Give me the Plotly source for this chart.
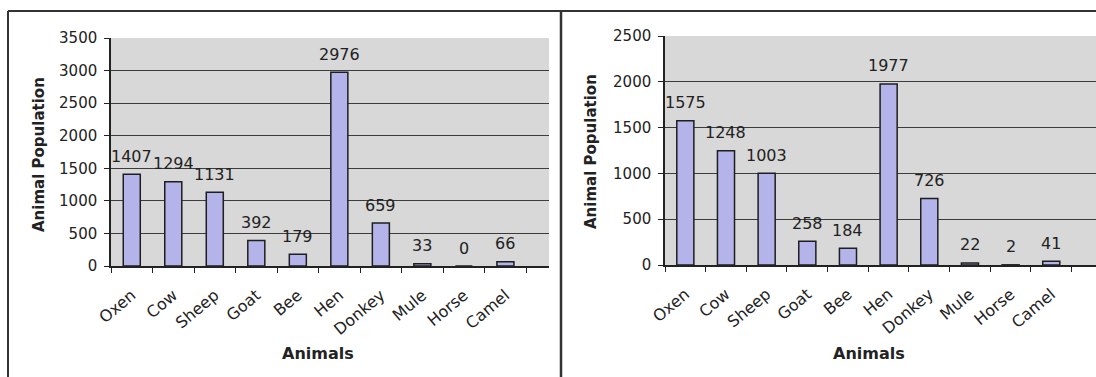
import plotly.graph_objects as go

animals = ["Oxen", "Cow", "Sheep", "Goat", "Bee", "Hen", "Donkey", "Mule", "Horse", "Camel"]
left_values = [1407, 1294, 1131, 392, 179, 2976, 659, 33, 0, 66]
right_values = [1575, 1248, 1003, 258, 184, 1977, 726, 22, 2, 41]
left_yticks = [0, 500, 1000, 1500, 2000, 2500, 3000, 3500]
right_yticks = [0, 500, 1000, 1500, 2000, 2500]
x_title = "Animals"
y_title = "Animal Population"

W, H = 1096, 377
FONT = "DejaVu Sans, Arial, sans-serif"
BAR = "#b4b4ea"
GRID = "#3c3c3c"
BG = "#d8d8d8"
TXT = "#222"

def px(x):
    return x / W

def py(y):
    return 1 - y / H

fig = go.Figure()
fig.add_trace(go.Bar(x=animals, y=left_values, xaxis="x", yaxis="y", width=0.41,
                     marker=dict(color=BAR, line=dict(color="#1e1e1e", width=1.5)),
                     showlegend=False, hoverinfo="x+y"))
fig.add_trace(go.Bar(x=animals, y=right_values, xaxis="x2", yaxis="y2", width=0.42,
                     marker=dict(color=BAR, line=dict(color="#1e1e1e", width=1.5)),
                     showlegend=False, hoverinfo="x+y"))

annotations = []
for xref, yref, vals in (("x", "y", left_values), ("x2", "y2", right_values)):
    for a, v in zip(animals, vals):
        annotations.append(dict(x=a, y=v, xref=xref, yref=yref, text=str(v), showarrow=False,
                                yanchor="middle", yshift=18,
                                font=dict(family=FONT, size=16, color=TXT)))

# axis titles placed as paper annotations
for cx, cy in ((318, 353), (869, 353)):
    annotations.append(dict(x=px(cx), y=py(cy), xref="paper", yref="paper", text=f"<b>{x_title}</b>",
                            showarrow=False, xanchor="center", yanchor="middle",
                            font=dict(family=FONT, size=16, color=TXT)))
for cx, cy in ((39, 155), (591, 152)):
    annotations.append(dict(x=px(cx), y=py(cy), xref="paper", yref="paper", text=f"<b>{y_title}</b>",
                            showarrow=False, xanchor="center", yanchor="middle", textangle=-90,
                            font=dict(family=FONT, size=15, color=TXT)))

axis_common = dict(showline=True, linecolor="#222", linewidth=1.5, ticks="outside", ticklen=5,
                   tickcolor="#222", automargin=False)
xtickfont = dict(family=FONT, size=16, color=TXT)
ytickfont = dict(family=FONT, size=15, color=TXT)

fig.update_layout(
    width=W, height=H, margin=dict(l=0, r=0, t=0, b=0, autoexpand=False),
    paper_bgcolor="white", plot_bgcolor=BG,
    xaxis=dict(domain=[px(111), px(549)], anchor="y", range=[-0.5, 10.05], tickangle=-40,
               tickson="boundaries", showgrid=False, ticklabelstandoff=12, tickfont=xtickfont,
               **axis_common),
    yaxis=dict(domain=[py(266), py(38)], anchor="x", range=[0, 3500], tickvals=left_yticks,
               showgrid=True, gridcolor=GRID, gridwidth=1, zeroline=False, ticklabelstandoff=4,
               tickfont=ytickfont, **axis_common),
    xaxis2=dict(domain=[px(665), 1.0], anchor="y2", range=[-0.5, 10.1], tickangle=-40,
                tickson="boundaries", showgrid=False, ticklabelstandoff=12, tickfont=xtickfont,
                **axis_common),
    yaxis2=dict(domain=[py(265), py(36)], anchor="x2", range=[0, 2500], tickvals=right_yticks,
                showgrid=True, gridcolor=GRID, gridwidth=1, zeroline=False, ticklabelstandoff=4,
                tickfont=ytickfont, **axis_common),
    annotations=annotations,
    shapes=[
        dict(type="line", xref="paper", yref="paper", x0=px(8), x1=1.0, y0=py(11), y1=py(11),
             line=dict(color="#333", width=2)),
        dict(type="line", xref="paper", yref="paper", x0=px(8), x1=px(8), y0=py(11), y1=0,
             line=dict(color="#333", width=2)),
        dict(type="line", xref="paper", yref="paper", x0=px(561), x1=px(561), y0=py(10), y1=0,
             line=dict(color="#333", width=2.5)),
    ],
)

fig.write_html("out.html", config={"displayModeBar": False},
               post_script="document.body.style.margin='0';document.body.style.overflow='hidden';")
